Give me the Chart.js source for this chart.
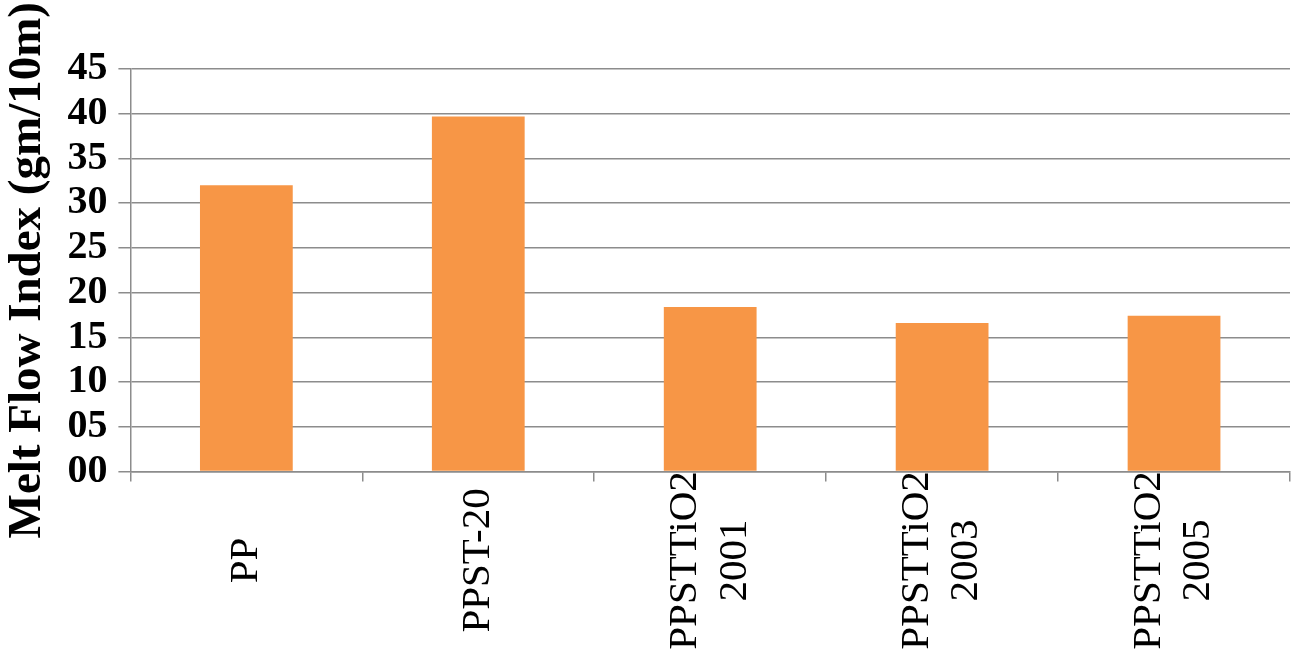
<!DOCTYPE html>
<html>
<head>
<meta charset="utf-8">
<script src="https://cdn.jsdelivr.net/npm/chart.js@4/dist/chart.umd.min.js"></script>
<style>
  html, body { margin: 0; padding: 0; background: #fff; }
  #wrap { width: 1300px; height: 664px; }
</style>
</head>
<body>
<div id="wrap"><canvas id="mfi" width="1300" height="664"></canvas></div>
<script>
const categories = ['PP', 'PPST-20', ['PPSTTiO2', '2001'], ['PPSTTiO2', '2003'], ['PPSTTiO2', '2005']]
const meltFlow = [32.0, 39.7, 18.4, 16.6, 17.4]
const yTicks = [0, 5, 10, 15, 20, 25, 30, 35, 40, 45]

const serif = "'Liberation Serif', 'Times New Roman', serif"
const gridGray = '#8c8c8c'

// rotated labels: centre each line in the label band and centre
// multi-line labels on their category (chart.js pushes them right)
const centerLabels = {
	id: 'centerLabels',
	beforeDraw(chart) {
		const scale = chart.scales.x
		scale.getLabelItems().forEach((item) => {
			if (item._centered) return
			const lines = Array.isArray(item.label) ? item.label.length : 1
			item.options.translation[0] -= ((lines - 1) * item.font.lineHeight) / 2
			item.options.translation[1] = scale.top + 89
			item.options.textAlign = 'center'
			item._centered = true
		})
	},
}

const ctx = document.getElementById('mfi')

const mfiChart = new Chart(ctx, {
	type: 'bar',
	data: {
		labels: categories,
		datasets: [
			{
				label: 'Melt Flow Index',
				data: meltFlow,
				backgroundColor: '#f79646',
				barPercentage: 0.4,
				categoryPercentage: 1.0,
			},
		],
	},
	options: {
		responsive: false,
		animation: false,
		layout: { padding: { top: 69, right: 10, left: 0, bottom: 0 } },
		plugins: {
			legend: { display: false },
			tooltip: { enabled: false },
		},
		scales: {
			x: {
				grid: { offset: true, drawOnChartArea: false, color: gridGray, lineWidth: 1.5, tickLength: 10 },
				border: { color: gridGray, width: 1.5 },
				ticks: {
					color: '#000',
					font: { family: serif, size: 41 },
					minRotation: 90,
					maxRotation: 90,
					padding: 2,
				},
			},
			y: {
				min: yTicks[0],
				max: yTicks[yTicks.length - 1],
				afterBuildTicks: (axis) => { axis.ticks = yTicks.map((v) => ({ value: v })) },
				grid: { color: gridGray, lineWidth: 1.5, tickLength: 12 },
				border: { color: gridGray, width: 1.5 },
				ticks: {
					color: '#000',
					font: { family: serif, size: 40, weight: 'bold' },
					padding: 11,
					autoSkip: false,
					callback: (v) => String(v).padStart(2, '0'),
				},
				title: {
					display: true,
					text: 'Melt Flow Index (gm/10m)',
					color: '#000',
					font: { family: serif, size: 47, weight: 'bold' },
					padding: { top: 0, bottom: 0 },
				},
			},
		},
	},
	plugins: [centerLabels],
})
</script>
</body>
</html>
